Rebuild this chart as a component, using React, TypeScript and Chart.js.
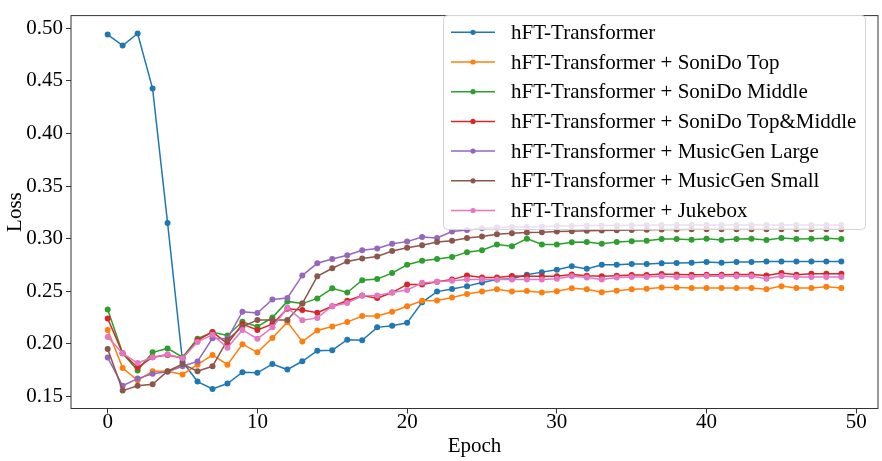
import { useEffect, useRef } from 'react';
import { Chart, registerables } from 'chart.js';

Chart.register(...registerables);

const epochs = [0, 1, 2, 3, 4, 5, 6, 7, 8, 9, 10, 11, 12, 13, 14, 15, 16, 17, 18, 19, 20, 21, 22, 23, 24, 25, 26, 27, 28, 29, 30, 31, 32, 33, 34, 35, 36, 37, 38, 39, 40, 41, 42, 43, 44, 45, 46, 47, 48, 49];

const seriesNames = [
  'hFT-Transformer',
  'hFT-Transformer + SoniDo Top',
  'hFT-Transformer + SoniDo Middle',
  'hFT-Transformer + SoniDo Top&Middle',
  'hFT-Transformer + MusicGen Large',
  'hFT-Transformer + MusicGen Small',
  'hFT-Transformer + Jukebox',
];

const hftBase = [0.494, 0.4836, 0.495, 0.4426, 0.315, 0.183, 0.1642, 0.1571, 0.1623, 0.1731, 0.1725, 0.1809, 0.1756, 0.1835, 0.1935, 0.194, 0.204, 0.2034, 0.2157, 0.2173, 0.22, 0.2395, 0.2497, 0.2521, 0.2549, 0.2583, 0.2611, 0.262, 0.2657, 0.2682, 0.2705, 0.2738, 0.2713, 0.2753, 0.2753, 0.2759, 0.2759, 0.2766, 0.2769, 0.2772, 0.2778, 0.2772, 0.2778, 0.2778, 0.2784, 0.2784, 0.2784, 0.2784, 0.2784, 0.2784];
const sonidoTop = [0.2133, 0.1771, 0.1654, 0.174, 0.174, 0.171, 0.1802, 0.1895, 0.1802, 0.1997, 0.192, 0.2056, 0.2207, 0.2022, 0.2127, 0.2165, 0.2207, 0.2265, 0.2265, 0.2306, 0.2358, 0.241, 0.2412, 0.2441, 0.2475, 0.2497, 0.2519, 0.2497, 0.2503, 0.2488, 0.25, 0.2528, 0.2519, 0.2491, 0.2506, 0.2519, 0.2525, 0.2537, 0.2537, 0.2531, 0.2531, 0.2531, 0.2531, 0.2531, 0.2519, 0.2549, 0.2531, 0.2531, 0.2543, 0.2531];
const sonidoMiddle = [0.2327, 0.191, 0.1747, 0.192, 0.1957, 0.1873, 0.2049, 0.2111, 0.208, 0.221, 0.2163, 0.225, 0.2404, 0.2383, 0.2432, 0.2528, 0.2488, 0.2605, 0.2617, 0.2673, 0.2752, 0.279, 0.2806, 0.2825, 0.2872, 0.289, 0.2944, 0.2929, 0.3, 0.2944, 0.2945, 0.2966, 0.2969, 0.2951, 0.2969, 0.2975, 0.2981, 0.2997, 0.2997, 0.299, 0.3, 0.2988, 0.2997, 0.3, 0.2988, 0.3006, 0.2997, 0.3, 0.3003, 0.2997];
const sonidoTopMiddle = [0.2241, 0.191, 0.1775, 0.1873, 0.1895, 0.1864, 0.2034, 0.2114, 0.2003, 0.2188, 0.2133, 0.2188, 0.2333, 0.2321, 0.2296, 0.2358, 0.241, 0.246, 0.2435, 0.2488, 0.2565, 0.2565, 0.259, 0.2611, 0.2651, 0.263, 0.263, 0.2645, 0.2642, 0.2642, 0.2642, 0.266, 0.2648, 0.2642, 0.2648, 0.2654, 0.2654, 0.2664, 0.266, 0.2657, 0.2657, 0.2657, 0.266, 0.266, 0.2651, 0.2673, 0.2657, 0.2667, 0.2667, 0.2667];
const musicgenLarge = [0.187, 0.1602, 0.167, 0.1716, 0.1735, 0.1787, 0.1833, 0.2053, 0.2049, 0.2306, 0.2293, 0.2423, 0.2436, 0.2651, 0.2766, 0.2806, 0.2843, 0.2889, 0.2907, 0.2951, 0.2972, 0.3015, 0.3006, 0.3068, 0.3083, 0.3099, 0.3105, 0.311, 0.311, 0.3113, 0.312, 0.3122, 0.3124, 0.3125, 0.3126, 0.3127, 0.3128, 0.3129, 0.313, 0.313, 0.313, 0.313, 0.313, 0.313, 0.313, 0.313, 0.313, 0.313, 0.313, 0.313];
const musicgenSmall = [0.1951, 0.1556, 0.1602, 0.1617, 0.174, 0.1809, 0.174, 0.1787, 0.2037, 0.2165, 0.2228, 0.2228, 0.2228, 0.2383, 0.2642, 0.2719, 0.2784, 0.2812, 0.283, 0.2882, 0.2914, 0.2938, 0.2969, 0.2981, 0.3006, 0.3021, 0.3043, 0.3052, 0.3058, 0.306, 0.3068, 0.307, 0.3075, 0.3078, 0.308, 0.3082, 0.3084, 0.3086, 0.3088, 0.309, 0.309, 0.309, 0.309, 0.309, 0.309, 0.309, 0.309, 0.309, 0.309, 0.309];
const jukebox = [0.2065, 0.191, 0.1818, 0.1873, 0.1901, 0.1864, 0.2019, 0.2086, 0.1963, 0.2133, 0.2049, 0.2157, 0.2343, 0.2225, 0.2247, 0.2358, 0.2389, 0.2457, 0.246, 0.2488, 0.2512, 0.258, 0.259, 0.2599, 0.2611, 0.2611, 0.2611, 0.2611, 0.2611, 0.2611, 0.262, 0.2642, 0.263, 0.2611, 0.263, 0.2636, 0.2636, 0.2642, 0.2636, 0.2636, 0.2645, 0.2642, 0.2642, 0.2642, 0.262, 0.2645, 0.2636, 0.2636, 0.2636, 0.2636];

const seriesValues = [hftBase, sonidoTop, sonidoMiddle, sonidoTopMiddle, musicgenLarge, musicgenSmall, jukebox];
const seriesColors = ['#1f77b4', '#ff7f0e', '#2ca02c', '#d62728', '#9467bd', '#8c564b', '#e377c2'];

const xTickValues = [0, 10, 20, 30, 40, 50];
const yTickValues = [0.15, 0.2, 0.25, 0.3, 0.35, 0.4, 0.45, 0.5];

const FONT = "'Liberation Serif', 'Times New Roman', serif";

const framePlugin = {
  id: 'frameBox',
  afterDatasetsDraw(chart: any) {
    const { ctx, chartArea } = chart;
    ctx.save();
    ctx.strokeStyle = '#333333';
    ctx.lineWidth = 1;
    ctx.strokeRect(chartArea.left, chartArea.top, chartArea.right - chartArea.left, chartArea.bottom - chartArea.top);
    ctx.restore();
  },
};

const legendPlugin = {
  id: 'boxLegend',
  afterDraw(chart: any) {
    const { ctx } = chart;
    const bx = 443.5;
    const by = 15.5;
    const bw = 422;
    const bh = 214;
    ctx.save();
    ctx.beginPath();
    ctx.roundRect(bx, by, bw, bh, 4);
    ctx.fillStyle = 'rgba(255,255,255,0.8)';
    ctx.fill();
    ctx.strokeStyle = '#d4d4d4';
    ctx.lineWidth = 1;
    ctx.stroke();
    ctx.font = `21px ${FONT}`;
    ctx.textBaseline = 'middle';
    ctx.textAlign = 'left';
    seriesNames.forEach((name, i) => {
      const y = 32.3 + 29.7 * i;
      ctx.strokeStyle = seriesColors[i];
      ctx.lineWidth = 1.5;
      ctx.beginPath();
      ctx.moveTo(451, y);
      ctx.lineTo(495, y);
      ctx.stroke();
      ctx.fillStyle = seriesColors[i];
      ctx.beginPath();
      ctx.arc(473, y, 2.6, 0, Math.PI * 2);
      ctx.fill();
      ctx.fillStyle = '#000000';
      ctx.fillText(name, 511, y + 1);
    });
    ctx.restore();
  },
};

export default function App() {
  const canvasRef = useRef<HTMLCanvasElement | null>(null);

  useEffect(() => {
    if (!canvasRef.current) return;
    const datasets = seriesNames.map((name, i) => ({
      label: name,
      data: seriesValues[i].map((v, j) => ({ x: epochs[j], y: v })),
      borderColor: seriesColors[i],
      backgroundColor: seriesColors[i],
      borderWidth: 1.5,
      pointRadius: 3,
      pointBorderWidth: 0,
      pointBackgroundColor: seriesColors[i],
      pointHoverRadius: 3,
      tension: 0,
      fill: false,
      order: seriesNames.length - 1 - i,
    }));

    const chart = new Chart(canvasRef.current, {
      type: 'line',
      data: { datasets },
      options: {
        animation: false,
        responsive: true,
        maintainAspectRatio: false,
        devicePixelRatio: 1,
        layout: { padding: { left: 0, top: 5, right: 4, bottom: 0 } },
        plugins: {
          legend: { display: false },
          tooltip: { enabled: false },
        },
        scales: {
          x: {
            type: 'linear',
            min: -2.45,
            max: 51.45,
            afterBuildTicks: (scale: any) => {
              scale.ticks = xTickValues.map((v) => ({ value: v }));
            },
            afterFit: (scale: any) => {
              scale.height = 52.5;
            },
            ticks: {
              color: '#000',
              font: { family: FONT, size: 21 },
              padding: -3.5,
              maxRotation: 0,
              callback: (v: any) => String(v),
            },
            grid: {
              display: true,
              drawOnChartArea: false,
              drawTicks: true,
              tickLength: 5,
              tickColor: '#333',
            },
            border: { display: false },
            title: {
              display: true,
              text: 'Epoch',
              color: '#000',
              font: { family: FONT, size: 21 },
              padding: { top: 0, bottom: 1.5 },
            },
          },
          y: {
            type: 'linear',
            min: 0.1386,
            max: 0.512,
            afterBuildTicks: (scale: any) => {
              scale.ticks = yTickValues.map((v) => ({ value: v }));
            },
            afterFit: (scale: any) => {
              scale.width = 71;
            },
            ticks: {
              color: '#000',
              font: { family: FONT, size: 21 },
              padding: 3,
              callback: (v: any) => Number(v).toFixed(2),
            },
            grid: {
              display: true,
              drawOnChartArea: false,
              drawTicks: true,
              tickLength: 5,
              tickColor: '#333',
            },
            border: { display: false },
            title: {
              display: true,
              text: 'Loss',
              color: '#000',
              font: { family: FONT, size: 21 },
              padding: { top: 3, bottom: 0 },
            },
          },
        },
      },
      plugins: [framePlugin, legendPlugin],
    });

    return () => chart.destroy();
  }, []);

  return (
    <div style={{ position: 'absolute', left: 0, top: 0, width: 882, height: 461 }}>
      <canvas ref={canvasRef} />
    </div>
  );
}
